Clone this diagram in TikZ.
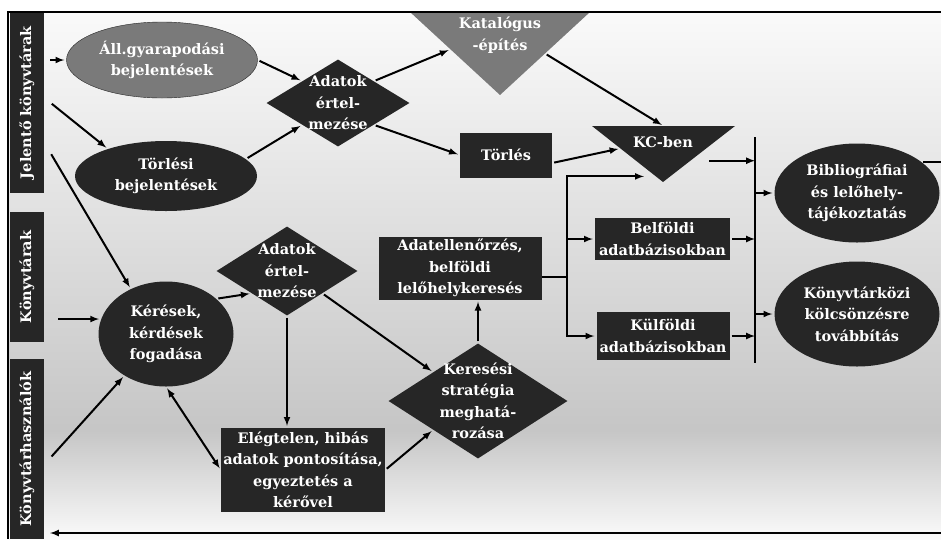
\documentclass[tikz,border=0pt]{standalone}
\usepackage{fontspec}
\setmainfont{DejaVu Serif}
\usepackage{tikz}
\usetikzlibrary{arrows,shapes.geometric,calc,positioning}
\definecolor{boxdark}{HTML}{262626}
\definecolor{boxgray}{HTML}{7A7A7A}
\begin{document}
\begin{tikzpicture}[x=1pt,y=-1pt,>=latex,font=\fontsize{14.5}{21.5}\selectfont\bfseries]
	\tikzstyle{dk}=[fill=boxdark,text=white,align=center,inner sep=0pt]
	\tikzstyle{ell}=[dk,ellipse]
	\tikzstyle{box}=[dk,rectangle]
	\tikzstyle{dia}=[dk,diamond]
	\tikzstyle{lbl}=[text=white,align=center,inner sep=0pt]
	\tikzstyle{sidebar}=[dk,rotate=90,minimum height=34pt]
	\tikzstyle{arr}=[->,line width=2pt,shorten <=2pt,shorten >=2pt]
		\useasboundingbox (0,0) rectangle (941,539);
		\fill[white] (0,0) rectangle (941,539);
		\shade[top color=gray!4,bottom color=gray!45] (8,12) rectangle (941,430);
		\shade[top color=gray!45,bottom color=gray!4] (8,430) rectangle (941,539);

		\node[sidebar,minimum width=181pt] (jel) at (27,102.5) {Jelentő könyvtárak};
		\node[sidebar,minimum width=130pt] (kvt) at (27,277) {Könyvtárak};
		\node[sidebar,minimum width=180pt] (khasz) at (27,449) {Könyvtárhasználók};

		\node[ell,fill=boxgray,draw=boxdark,minimum width=191pt,minimum height=76pt] (all) at (162,60) {Áll.gyarapodási\\bejelentések};
		\node[ell,minimum width=182pt,minimum height=70pt] (torl) at (166,176) {Törlési\\bejelentések};
		\node[dia,minimum width=143pt,minimum height=87pt,label={[lbl]center:{Adatok\\értel-\\mezése}}] (adat1) at (338,103) {};

		\coordinate (kat1) at (410,12);
		\coordinate (kat2) at (590,12);
		\coordinate (kat3) at (500,95);
		\fill[boxgray] (kat1) -- (kat2) -- (kat3) -- cycle;
		\node[lbl] (kat) at (500,35) {Katalógus\\-építés};

		\node[box,minimum width=92pt,minimum height=45pt] (torles) at (506,155) {Törlés};

		\coordinate (kc1) at (592,126);
		\coordinate (kc2) at (735,126);
		\coordinate (kc3) at (663,182);
		\fill[boxdark] (kc1) -- (kc2) -- (kc3) -- cycle;
		\node[lbl] (kc) at (663,142) {KC-ben};
		\coordinate (kcr) at ($(kc2)!0.62!(kc3)$);

		\node[box,minimum width=135pt,minimum height=42pt] (belf) at (662.5,239) {Belföldi\\adatbázisokban};
		\node[box,minimum width=133pt,minimum height=48pt] (kulf) at (663,336) {Külföldi\\adatbázisokban};
		\node[box,minimum width=163pt,minimum height=63pt] (adatell) at (460,268) {Adatellenőrzés,\\belföldi\\lelőhelykeresés};

		\node[ell,minimum width=165pt,minimum height=99pt] (bib) at (857,193) {Bibliográfiai\\és lelőhely-\\tájékoztatás};
		\node[ell,minimum width=165pt,minimum height=105pt] (kkk) at (857,314) {Könyvtárközi\\kölcsönzésre\\továbbítás};

		\node[ell,minimum width=135pt,minimum height=105pt] (keresek) at (166,334) {Kérések,\\kérdések\\fogadása};
		\node[dia,minimum width=141pt,minimum height=89pt,label={[lbl]center:{Adatok\\értel-\\mezése}}] (adat2) at (287,271) {};
		\node[box,minimum width=164pt,minimum height=84pt] (eleg) at (303,470) {Elégtelen, hibás\\adatok pontosítása,\\egyeztetés a\\kérővel};
		\node[dia,minimum width=179pt,minimum height=115pt,label={[lbl]center:{Keresési\\stratégia\\meghatá-\\rozása}}] (keres) at (478,401) {};

		\coordinate (bart) at (755,137);
		\coordinate (barb) at (755,363);
		\coordinate (split) at (567,277);
		\coordinate (back) at (50,533);

		\draw[line width=1.5pt] (8,539) -- (8,12) -- (941,12);
		\draw[line width=2pt] (bart) -- (barb);

		\draw[arr] ([xshift=4pt]jel.south |- all.west) -- (all.west);
		\draw[arr] ([xshift=6pt]jel.south) -- (torl.155);
		\draw[arr] ([xshift=6pt,yshift=-50pt]jel.south) -- (keresek.128);
		\draw[arr] ([xshift=12pt]kvt.south |- keresek.167) -- (keresek.167);
		\draw[arr] ([xshift=6pt,yshift=-9pt]khasz.south) -- (keresek.225);
		\draw[arr,<->] (keresek.south) -- (eleg.west);
		\draw[arr] (keresek.35) -- (adat2.south west);
		\draw[arr] (adat2.south) -- (adat2.south |- eleg.north);
		\draw[arr] (adat2.south east) -- (keres.north west);
		\draw[arr] (eleg.east) -- (keres.south west);
		\draw[arr] (keres.north) -- (keres.north |- adatell.south);

		\draw[arr] (all.east) -- (adat1.north west);
		\draw[arr] (torl.12) -- (adat1.south west);
		\draw[arr] (adat1.north east) -- ($(kat1)!0.45!(kat3)$);
		\draw[arr] (adat1.south east) -- (torles.west);
		\draw[arr] ($(kat2)!0.5!(kat3)$) -- ($(kc1)!0.5!(kc2)$);
		\draw[arr] ([yshift=-8pt]torles.east) -- ($(kc1)!0.4!(kc3)$);

		\draw[line width=2pt] ([yshift=-9pt]adatell.east) -- (split);
		\draw[arr,shorten <=0pt,shorten >=12pt] (split) |- ($(kc1)!0.9!(kc3)$);
		\draw[arr,shorten <=0pt] (split) |- (belf.west);
		\draw[arr,shorten <=0pt] (split) |- (kulf.west);

		\draw[arr,shorten >=0pt] ([xshift=17pt]kcr) -- (kcr -| bart);
		\draw[arr,shorten >=0pt] (belf.east) -- (belf.east -| bart);
		\draw[arr,shorten >=0pt] (kulf.east) -- (kulf.east -| bart);
		\draw[arr,shorten <=0pt] (bib.west -| bart) -- (bib.west);
		\draw[arr,shorten <=0pt] (kkk.west -| bart) -- (kkk.west);

		\draw[arr,shorten >=0pt] (bib.26) -- ++(30,0) |- (back);
\end{tikzpicture}
\end{document}
